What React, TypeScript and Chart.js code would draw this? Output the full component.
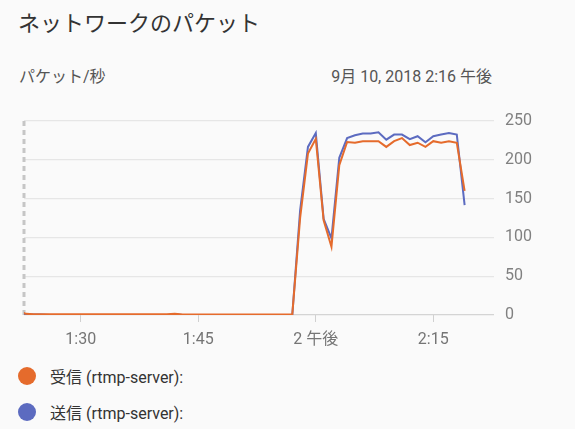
import { useEffect, useRef } from "react";
import { Chart, registerables } from "chart.js";

Chart.register(...registerables);

// minutes after 1:00, one sample per minute (1:22 .. 2:19)
const firstMinute = 22;
const received = [
  5, 1.5, 1, 1, 1, 1, 1, 1, 1, 1, 1, 1, 1, 1, 1, 1, 1, 1, 1, 1,
  1.5, 0.8, 0.8, 0.8, 0.8, 0.8, 0.8, 0.8, 0.8, 0.8, 0.8, 0.8, 0.8, 0.8, 0.8, 0.8,
  125, 208, 227, 122, 88, 193, 223, 222, 224, 224, 224, 216.6, 224, 228, 219, 222,
  216.6, 224, 222, 224, 222, 160,
];
const sent = [
  1, 0.5, 0.5, 0.5, 0, 0, 0, 0, 0, 0, 0, 0, 0, 0, 0, 0, 0, 0, 0, 0,
  1, 0, 0, 0, 0, 0, 0, 0, 0, 0, 0, 0, 0, 0, 0, 0,
  135, 216.6, 234.6, 124, 98.7, 202.5, 228, 231.7, 233.8, 234, 235.5, 226, 232.5, 232.5, 226.6, 230.4,
  222.7, 230.4, 232.5, 234.6, 232.5, 141.5,
];
const xTicks = [30, 45, 60, 75];
const xTickLabels = ["1:30", "1:45", "2 午後", "2:15"];
const yTicks = [0, 50, 100, 150, 200, 250];

const seriesNames = ["受信 (rtmp-server):", "送信 (rtmp-server):"];
const seriesColors = ["#e56b2c", "#5c6bc0"];

const FONT = "Roboto, 'Noto Sans CJK JP', sans-serif";

const leftDash = {
  id: "leftDash",
  beforeDatasetsDraw(chart: Chart) {
    const { ctx, chartArea } = chart;
    ctx.save();
    ctx.strokeStyle = "#c6c6c6";
    ctx.lineWidth = 3;
    ctx.setLineDash([5, 4]);
    ctx.beginPath();
    ctx.moveTo(chartArea.left, chartArea.top);
    ctx.lineTo(chartArea.left, chartArea.bottom);
    ctx.stroke();
    ctx.restore();
  },
};

function PacketChart() {
  const canvasRef = useRef<HTMLCanvasElement>(null);
  const chartRef = useRef<Chart | null>(null);

  useEffect(() => {
    if (!canvasRef.current) return;
    if (chartRef.current) chartRef.current.destroy();

    const toPoints = (vals: number[]) => vals.map((v, i) => ({ x: firstMinute + i, y: v }));

    chartRef.current = new Chart(canvasRef.current, {
      type: "line",
      data: {
        datasets: [
          {
            label: seriesNames[0],
            data: toPoints(received),
            borderColor: seriesColors[0],
            borderWidth: 2,
            pointRadius: 0,
            tension: 0,
          },
          {
            label: seriesNames[1],
            data: toPoints(sent),
            borderColor: seriesColors[1],
            borderWidth: 2,
            pointRadius: 0,
            tension: 0,
          },
        ],
      },
      options: {
        animation: false,
        responsive: false,
        maintainAspectRatio: false,
        layout: { padding: { top: 21, left: 24, right: 0, bottom: 0 } },
        plugins: { legend: { display: false }, tooltip: { enabled: false } },
        scales: {
          x: {
            type: "linear",
            min: 22.75,
            max: 82.75,
            afterBuildTicks: (scale: any) => {
              scale.ticks = xTicks.map((v) => ({ value: v }));
            },
            afterFit: (scale: any) => {
              scale.height = 35;
            },
            border: { display: false },
            grid: {
              drawOnChartArea: false,
              drawTicks: true,
              tickLength: 7,
              color: "#d0d0d0",
              lineWidth: 1,
            },
            ticks: {
              autoSkip: false,
              maxRotation: 0,
              padding: 8,
              color: "#757575",
              font: { family: FONT, size: 16 },
              callback: (v: any) => xTickLabels[xTicks.indexOf(Number(v))] ?? "",
            },
          },
          y: {
            position: "right",
            min: 0,
            max: 250,
            afterBuildTicks: (scale: any) => {
              scale.ticks = yTicks.map((v) => ({ value: v }));
            },
            afterFit: (scale: any) => {
              scale.width = 81;
            },
            border: { display: false },
            grid: {
              drawTicks: false,
              color: (c: any) => (c.tick && c.tick.value === 0 ? "#d4d4d4" : "#e6e6e6"),
              lineWidth: 1.2,
            },
            ticks: {
              padding: 11,
              crossAlign: "near",
              color: "#808080",
              font: { family: FONT, size: 16 },
            },
          },
        },
      },
      plugins: [leftDash],
    });

    return () => {
      if (chartRef.current) {
        chartRef.current.destroy();
        chartRef.current = null;
      }
    };
  }, []);

  return (
    <canvas
      ref={canvasRef}
      width={575}
      height={250}
      style={{ position: "absolute", left: 0, top: 100, width: 575, height: 250 }}
    />
  );
}

export default function App() {
  return (
    <div
      style={{
        position: "fixed",
        left: 0,
        top: 0,
        width: 575,
        height: 429,
        background: "#fafafa",
        fontFamily: FONT,
        overflow: "hidden",
      }}
    >
      <div style={{ position: "absolute", left: 18, top: 12, fontSize: 22, lineHeight: "24px", color: "#333" }}>
        ネットワークのパケット
      </div>
      <div style={{ position: "absolute", left: 19, top: 67, fontSize: 16, lineHeight: "20px", color: "#555" }}>
        パケット/秒
      </div>
      <div
        style={{
          position: "absolute",
          right: 83,
          top: 67,
          fontSize: 16,
          fontWeight: 400,
          lineHeight: "20px",
          color: "#555",
          textAlign: "right",
        }}
      >
        9月 10, 2018 2:16 午後
      </div>
      <PacketChart />
      {seriesNames.map((name, i) => (
        <div
          key={name}
          style={{
            position: "absolute",
            left: 18,
            top: 366 + i * 36,
            height: 20,
            display: "flex",
            alignItems: "center",
            fontSize: 16,
            color: "#333",
          }}
        >
          <span
            style={{
              display: "inline-block",
              width: 18,
              height: 18,
              borderRadius: "50%",
              background: seriesColors[i],
              marginRight: 14,
            }}
          />
          <span>{name}</span>
        </div>
      ))}
    </div>
  );
}
